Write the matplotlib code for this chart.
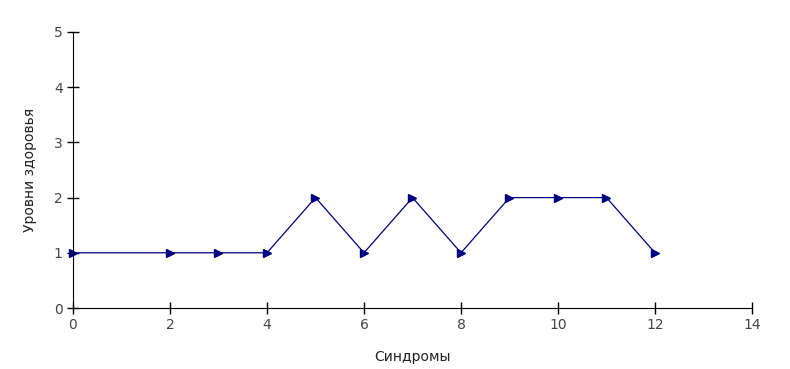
import matplotlib
matplotlib.use("Agg")
import matplotlib.pyplot as plt

# syndrome index vs health level
syndromes = [0, 2, 3, 4, 5, 6, 7, 8, 9, 10, 11, 12]
health_levels = [1, 1, 1, 1, 2, 1, 2, 1, 2, 2, 2, 1]

x_ticks = [0, 2, 4, 6, 8, 10, 12, 14]
y_ticks = [0, 1, 2, 3, 4, 5]

fig = plt.figure(figsize=(7.9, 3.69), dpi=100)
ax = fig.add_axes([0.0924, 0.1653, 0.8595, 0.748])

ax.plot(syndromes, health_levels, color="#000080", linewidth=0.9,
        marker=">", markersize=6, markerfacecolor="#000080",
        markeredgecolor="#000080", clip_on=False)

ax.set_xlim(0, 14)
ax.set_ylim(0, 5)
ax.set_xticks(x_ticks)
ax.set_yticks(y_ticks)
ax.tick_params(direction="inout", length=8, width=1, labelsize=10,
               labelcolor="#444444")
for side in ("top", "right"):
    ax.spines[side].set_visible(False)

ax.set_xlabel("Синдромы", fontsize=10, color="#222222", labelpad=13)
ax.set_ylabel("Уровни здоровья", fontsize=10, color="#222222", labelpad=12)

fig.savefig("out.png", dpi=100)
